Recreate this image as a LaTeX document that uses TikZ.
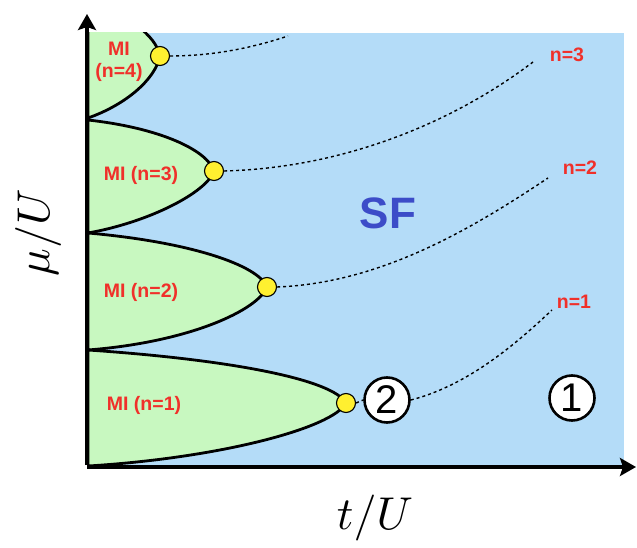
\documentclass[tikz,border=0pt]{standalone}
\usepackage{fontspec}
\setmainfont{Liberation Sans}
\usetikzlibrary{arrows.meta}
\definecolor{sfblue}{HTML}{B4DCF8}
\definecolor{migreen}{HTML}{C8F8C0}
\definecolor{lblred}{HTML}{F0302A}
\definecolor{sftext}{HTML}{3C4CC8}
\definecolor{dotyellow}{HTML}{FFF030}
\tikzset{
  lobe/.style={fill=migreen, draw=black, line width=2.8pt},
  axisline/.style={line width=3.6pt, -{Stealth[length=16pt,width=18pt,inset=3pt]}},
  tipdot/.style={circle, fill=dotyellow, draw=black, line width=1.1pt, minimum size=19pt, inner sep=0pt},
  trace/.style={line width=1.4pt, dash pattern=on 3pt off 3pt},
  milabel/.style={text=lblred, font=\bfseries\fontsize{19.5}{22}\selectfont, align=center},
  nlabel/.style={text=lblred, font=\bfseries\fontsize{19.5}{22}\selectfont},
  regionmark/.style={circle, fill=white, draw=black, line width=2.6pt, minimum size=45pt, inner sep=0pt, font=\fontsize{40}{42}\selectfont},
}
\begin{document}
\begin{tikzpicture}[x=1pt,y=-1pt]
\useasboundingbox (0,0) rectangle (637,548);
% background
\fill[sfblue] (88,33) rectangle (624,467);
\begin{scope}
\clip (88,33) rectangle (624,467);
% lobe 4
\draw[lobe] (88,5) .. controls (125,12) and (156,35) .. (160,56)
  .. controls (155,80) and (125,105) .. (88,118) -- cycle;
% lobe 3
\draw[lobe] (88,120) .. controls (160,128) and (207,150) .. (214,171)
  .. controls (207,192) and (150,222) .. (88,233) -- cycle;
% lobe 2
\draw[lobe] (88,233) .. controls (190,242) and (258,265) .. (267,287)
  .. controls (258,310) and (190,342) .. (88,350) -- cycle;
% lobe 1
\draw[lobe] (88,350) .. controls (235,360) and (333,380) .. (346,403)
  .. controls (333,428) and (220,458) .. (88,466) -- cycle;
\end{scope}
% axes
\coordinate (origin) at (87,467);
\coordinate (xend) at (636,467);
\coordinate (yend) at (87,14);
\draw[axisline] (origin) -- (xend);
\draw[axisline] ([yshift=2pt]origin) -- (yend);
% tip dots
\node[tipdot] (d4) at (160,56) {};
\node[tipdot] (d3) at (214,171) {};
\node[tipdot] (d2) at (267,287) {};
\node[tipdot] (d1) at (346,403) {};
% region marks
\node[regionmark] (r2) at (387,400) {2};
\node[regionmark] (r1) at (572,398) {1};
% trace ends
\coordinate (e4) at (288,36);
\coordinate (e3) at (533,62);
\coordinate (e2) at (548,178);
\coordinate (e1) at (552,310);
% traces
\draw[trace] (d4.east) .. controls (215,56) and (255,47) .. (e4);
\draw[trace] (d3.east) .. controls (340,168) and (450,125) .. (e3);
\draw[trace] (d2.east) .. controls (380,283) and (470,230) .. (e2);
\draw[trace] (d1.east) -- (r2.west);
\draw[trace] (r2.east) .. controls (470,385) and (520,340) .. (e1);
% labels
\node[nlabel] (n3) at (567,55) {n=3};
\node[nlabel] (n2) at (580,168) {n=2};
\node[nlabel] (n1) at (574,302) {n=1};
\node[milabel] (mi4) at (119,62) {MI\\(n=4)};
\node[milabel] (mi3) at (141,175) {MI (n=3)};
\node[milabel] (mi2) at (141,292) {MI (n=2)};
\node[milabel] (mi1) at (144,405) {MI (n=1)};
\node[text=sftext, font=\bfseries\fontsize{44}{48}\selectfont] (sf) at (388,213) {SF};
\node[scale=4.6] (xl) at (375,518) {$t/U$};
\node[scale=4.6, rotate=90] (yl) at (38,233) {$\mu/U$};
\end{tikzpicture}
\end{document}
